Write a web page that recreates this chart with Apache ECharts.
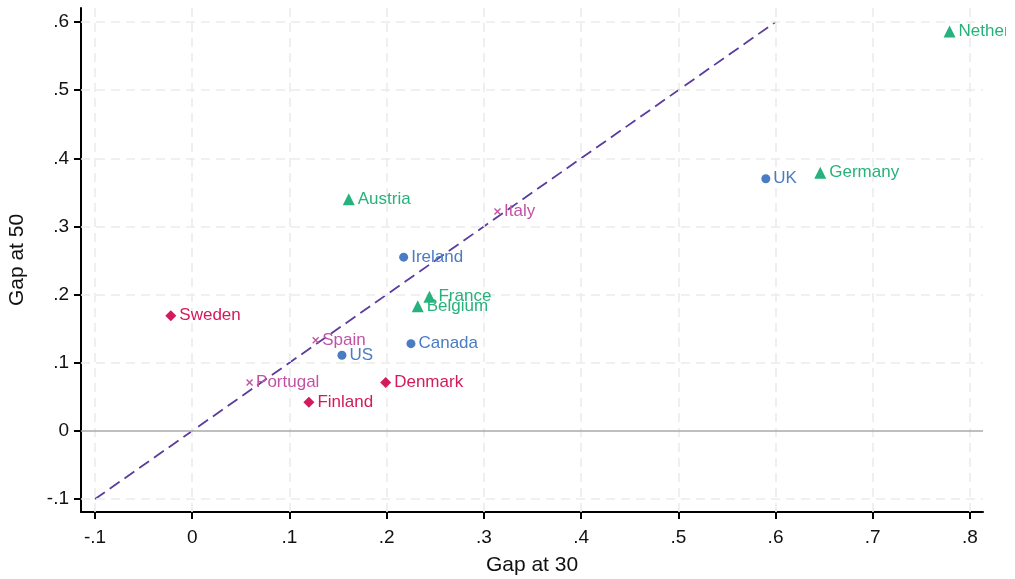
<!DOCTYPE html>
<html>
<head>
<meta charset="utf-8">
<script src="https://cdn.jsdelivr.net/npm/echarts@6/dist/echarts.min.js"></script>
<style>
  html, body { margin: 0; padding: 0; background: #ffffff; }
  #chart { width: 1006px; height: 579px; }
</style>
</head>
<body>
<div id="chart"></div>
<script>
// Gender gap at age 30 (x) versus at age 50 (y), grouped by welfare regime
const liberalNames = ['UK', 'Ireland', 'Canada', 'US'];
const liberalGap30 = [0.590, 0.2175, 0.225, 0.154];
const liberalGap50 = [0.370, 0.255, 0.128, 0.111];

const continentalNames = ['Netherlands', 'Germany', 'Austria', 'France', 'Belgium'];
const continentalGap30 = [0.779, 0.646, 0.161, 0.244, 0.232];
const continentalGap50 = [0.586, 0.379, 0.340, 0.197, 0.183];

const nordicNames = ['Sweden', 'Denmark', 'Finland'];
const nordicGap30 = [-0.022, 0.199, 0.120];
const nordicGap50 = [0.169, 0.071, 0.042];

const southernNames = ['Italy', 'Spain', 'Portugal'];
const southernGap30 = [0.314, 0.127, 0.059];
const southernGap50 = [0.322, 0.133, 0.071];

// 45-degree reference line endpoints
const diagonal = [[-0.1, -0.1], [0.6, 0.6]];

// Tick values
const xTicks = [-0.1, 0, 0.1, 0.2, 0.3, 0.4, 0.5, 0.6, 0.7, 0.8];
const yTicks = [-0.1, 0, 0.1, 0.2, 0.3, 0.4, 0.5, 0.6];

const FONT = '"Liberation Sans", Arial, Helvetica, sans-serif';

function fmt(v) {
  const r = Math.round(v * 10) / 10;
  if (r === 0) return '0';
  const s = r.toFixed(1);
  return s.replace(/^(-?)0\./, '$1.');
}

function points(names, xs, ys) {
  return names.map((n, i) => ({ name: n, value: [xs[i], ys[i]] }));
}

function groupSeries(names, xs, ys, color, symbol, size) {
  return {
    type: 'scatter',
    data: points(names, xs, ys),
    symbol: symbol,
    symbolSize: size,
    itemStyle: { color: color, opacity: 1 },
    label: {
      show: true,
      position: 'right',
      distance: 3,
      formatter: '{b}',
      color: color,
      fontFamily: FONT,
      fontSize: 17
    },
    z: 5
  };
}

const gridLineStyle = { color: '#ececec', width: 1.6, type: [9, 6] };

const chart = echarts.init(document.getElementById('chart'), null, { renderer: 'canvas' });

chart.setOption({
  animation: false,
  backgroundColor: '#ffffff',
  grid: { left: 81, right: 23, top: 8, bottom: 67, containLabel: false, outerBoundsMode: 'none' },
  xAxis: {
    type: 'value',
    min: -0.1144,
    max: 0.8134,
    name: 'Gap at 30',
    nameLocation: 'middle',
    nameGap: 43,
    nameTextStyle: { fontFamily: FONT, fontSize: 21, color: '#111' },
    axisLine: { show: true, onZero: false, lineStyle: { color: '#000', width: 2 } },
    axisTick: { show: true, length: 7, lineStyle: { color: '#000', width: 2 }, customValues: xTicks },
    axisLabel: { fontFamily: FONT, fontSize: 19, color: '#111', margin: 16, customValues: xTicks, formatter: fmt },
    splitLine: { show: false }
  },
  yAxis: {
    type: 'value',
    min: -0.119,
    max: 0.6206,
    name: 'Gap at 50',
    nameLocation: 'middle',
    nameGap: 53,
    nameTextStyle: { fontFamily: FONT, fontSize: 21, color: '#111' },
    axisLine: { show: true, onZero: false, lineStyle: { color: '#000', width: 2 } },
    axisTick: { show: true, length: 7, lineStyle: { color: '#000', width: 2 }, customValues: yTicks },
    axisLabel: { fontFamily: FONT, fontSize: 19, color: '#111', margin: 12, customValues: yTicks, formatter: fmt },
    splitLine: { show: false }
  },
  series: [
    {
      // background grid and the zero line
      type: 'line',
      data: [],
      silent: true,
      z: 1,
      markLine: {
        silent: true,
        symbol: ['none', 'none'],
        label: { show: false },
        lineStyle: gridLineStyle,
        data: xTicks.map(v => ({ xAxis: v }))
          .concat(yTicks.filter(v => v !== 0).map(v => ({ yAxis: v })))
          .concat([{ yAxis: 0, lineStyle: { color: '#aaaaaa', width: 1.6, type: 'solid' } }])
      }
    },
    {
      type: 'line',
      data: diagonal,
      symbol: 'none',
      silent: true,
      z: 3,
      lineStyle: { color: '#5a3c9e', width: 1.8, type: [12, 6] }
    },
    groupSeries(liberalNames, liberalGap30, liberalGap50, '#4a7cc3', 'circle', 9),
    groupSeries(continentalNames, continentalGap30, continentalGap50, '#26b27c', 'triangle', 12),
    groupSeries(nordicNames, nordicGap30, nordicGap50, '#d31a5c', 'diamond', 11),
    groupSeries(southernNames, southernGap30, southernGap50, '#c352a4',
      'path://M0,1.4L1.4,0L5,3.6L8.6,0L10,1.4L6.4,5L10,8.6L8.6,10L5,6.4L1.4,10L0,8.6L3.6,5Z', 7)
  ]
});
</script>
</body>
</html>
